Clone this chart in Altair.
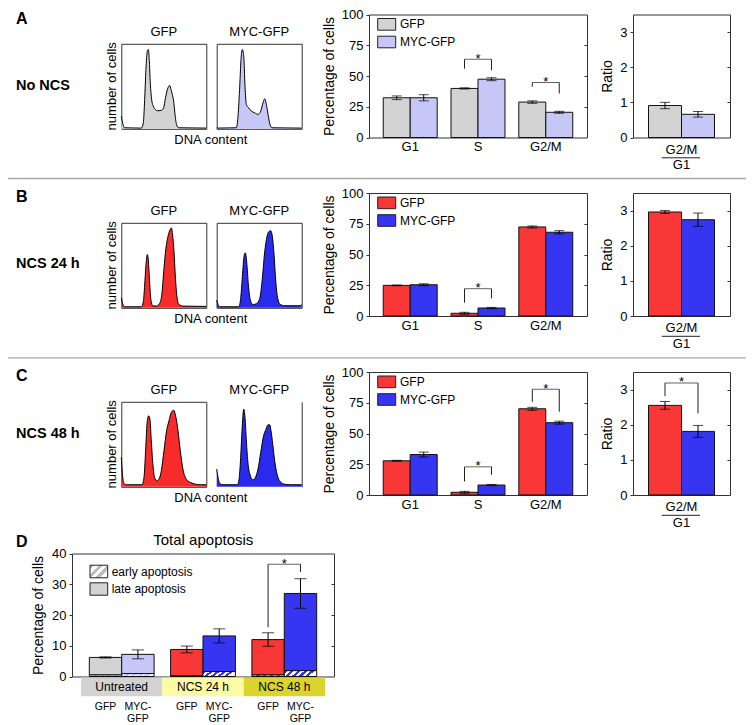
import altair as alt
import pandas as pd

FONT = "Liberation Sans"
W, H = 738, 716


def P(v):
    return v - 8


def PY(v):
    return v - 4.5


# ---------------- data ----------------
phases = ["G1", "S", "G2/M"]
groups = ["GFP", "MYC-GFP"]
row_letters = ["A", "B", "C"]
row_names = ["No NCS", "NCS 24 h", "NCS 48 h"]

pct_gfp = [[32.3, 39.9, 28.8], [24.9, 2.2, 72.4], [27.8, 2.2, 70.1]]
pct_gfp_err = [[1.5, 0.5, 1.0], [0.3, 0.8, 0.8], [0.4, 0.8, 1.2]]
pct_myc = [[32.3, 47.4, 20.5], [25.4, 6.5, 68.1], [32.9, 8.1, 58.8]]
pct_myc_err = [[2.5, 1.2, 0.8], [0.8, 0.5, 1.3], [2.0, 0.5, 1.2]]

ratio_label = ["G2/M"]
ratio_gfp = [0.91, 2.96, 2.55]
ratio_gfp_err = [0.09, 0.04, 0.11]
ratio_myc = [0.66, 2.74, 1.81]
ratio_myc_err = [0.08, 0.19, 0.17]

# significance brackets: (category, top, left leg end, right leg end)
sig_pct = [
    [("S", 63.6, 56.0, 54.7), ("G2/M", 44.7, 41.2, 35.8)],
    [("S", 22.2, 10.8, 14.3)],
    [("S", 22.9, 11.0, 16.4), ("G2/M", 86.0, 75.7, 67.7)],
]
sig_ratio = [[], [], [("G2/M", 3.19, 2.81, 2.32)]]

# DNA content histograms (x: channel 0-100, y: relative count 0-100)
hist_a_gfp_x = [0, 2, 3.9, 23.5, 25.9, 27.5, 29, 30.6, 31.8, 32.9, 34.1, 35.7, 37.6, 40, 43, 47, 49.8, 52,
                54.9, 56.9, 58.4, 60, 61.6, 63, 65, 67.5, 100]
hist_a_gfp_y = [14.9, 5, 1.2, 0.8, 7, 34.5, 70, 91.4, 93.3, 81.6, 54, 34.5, 26.7, 22.7, 21.2, 21.6, 24.7, 36.5,
                48.2, 51, 46.3, 40.4, 32.5, 18.8, 5, 1.2, 0.8]
hist_a_myc_x = [0, 23.1, 25.1, 27.1, 28.6, 30.2, 31.8, 33.3, 34.9, 37.6, 40.8, 44.7, 48.6, 51.8, 54.5, 56.5,
                58.4, 60.4, 62.7, 65.1, 100]
hist_a_myc_y = [0.8, 1.2, 14.9, 50, 81.6, 93.3, 85.5, 50, 28.6, 24.7, 20.8, 18.8, 16.9, 20.8, 30.6, 35.3,
                28.6, 16.9, 5, 1.2, 0.8]
hist_b_gfp_x = [0, 1.6, 3.5, 23.5, 25.9, 27.5, 29, 30.6, 31.8, 33.3, 34.9, 36.9, 41.2, 45, 47.8, 50.2, 52.5,
                54.9, 57.3, 58.8, 60.4, 62, 63.5, 65.5, 67.8, 72.5, 100]
hist_b_gfp_y = [11.8, 5, 1.2, 1.2, 7, 26.7, 50, 62.7, 56, 30.6, 9, 2.4, 2, 5, 16.9, 46.3, 70, 83.9, 91.7,
                94.1, 85.5, 65.9, 38.4, 12.9, 3.9, 2, 1.6]
hist_b_myc_x = [0, 1.6, 3.5, 25.9, 28.2, 30.2, 32.2, 33.7, 35.3, 37.3, 39.6, 42.4, 46.7, 50.6, 53.3, 56.5,
                59.2, 61.6, 63.5, 65.5, 67.5, 69.4, 71.8, 74.9, 80, 98, 100]
hist_b_myc_y = [9, 3.9, 1.2, 1.2, 11, 36.5, 60.8, 64.7, 53.7, 26.7, 9, 3.9, 4.7, 11, 30.6, 65.9, 83.9, 89.8,
                90.6, 83.9, 62, 32.5, 11, 3.9, 2.4, 2.4, 3.9]
hist_c_gfp_x = [0, 1.2, 2.7, 5.9, 24.3, 26.7, 28.6, 30.6, 32.2, 33.7, 35.3, 37.3, 39.2, 41.6, 44.3, 47.1,
                50.2, 53.3, 56.1, 58.8, 61.6, 63.9, 66.7, 69.4, 72.5, 76.5, 81.6, 87.1, 94.1, 100]
hist_c_gfp_y = [34.5, 16.9, 5, 2.4, 2.4, 11, 42.4, 77.6, 83.5, 79.6, 54, 24.7, 11, 7, 9, 18.8, 42.4, 65.9,
                77.6, 87.5, 90.2, 83.5, 65.9, 42.4, 20.8, 9, 5, 3.1, 2.4, 2.4]
hist_c_myc_x = [0, 1.6, 3.5, 7.5, 24.3, 26.3, 28.2, 29.8, 31.8, 33.3, 34.9, 36.9, 39.2, 42.4, 45.5, 48.6,
                51.8, 54.9, 58, 60.4, 62.4, 63.9, 65.9, 68.2, 71, 74.5, 80, 87.8, 100]
hist_c_myc_y = [20.8, 11, 3.9, 2.4, 2.4, 9, 34.5, 65.9, 91.4, 81.6, 54, 26.7, 14.5, 8.2, 11, 20.8, 40.4, 58.8,
                67.8, 72.9, 72.9, 65.9, 50.2, 30.6, 14.9, 6.3, 3.1, 2.4, 2.4]

# Panel D: total apoptosis
conditions = ["Untreated", "NCS 24 h", "NCS 48 h"]
apo_total_gfp = [6.2, 8.8, 12.0]
apo_err_gfp = [0.2, 1.1, 2.2]
apo_early_gfp = [0.5, 0.2, 0.5]
apo_total_myc = [7.2, 13.2, 27.0]
apo_err_myc = [1.45, 2.3, 4.8]
apo_early_myc = [0.95, 1.6, 1.9]
sig_apo = [("NCS 48 h", 36.5, 16.0, 34.0)]

# ---------------- styles ----------------
GRAY, LAV, RED, BLUE = "#D3D3D3", "#C7C7F7", "#F93737", "#3636F2"
row_colors = [(GRAY, LAV), (RED, BLUE), (RED, BLUE)]
hist_colors = [("#D3D3D3", "#C8C8F8"), ("#F82B2B", "#2A2AEE"), ("#F82B2B", "#2A2AEE")]
BAND_COLORS = ["#D3D3D3", "#FDFBA3", "#DCD42E"]

bar_off = [0, 178.5, 357.5]
hist_off = [0, 179, 358]
letter_y = [15, 193.3, 372.3]
name_y = [82, 260, 430]
BAR_X0, BAR_X1 = 369, 587
RAT_X0, RAT_X1 = 633, 730
PTOP, PBOT = 11, 134
HIST_X = [(121.3, 206.3), (216.7, 301.7)]
HTOP, HBOT = 40.3, 125.3
D_X0, D_X1, D_TOP, D_BOT = 72, 334, 550, 673

ONE = pd.DataFrame({"k": [0]})


def ax(orient, pos, labels=False, ticks=False, tick_size=3, values=None, title=None,
       label_padding=None, title_padding=None):
    if orient == "bottom":
        off = PY(pos) - H
    elif orient == "top":
        off = -PY(pos)
    elif orient == "left":
        off = -P(pos)
    else:
        off = P(pos) - W
    kw = dict(orient=orient, offset=off, labels=labels, ticks=ticks,
              tickSize=tick_size if ticks else 0, title=title, domain=True, grid=False,
              labelFlush=False, labelOverlap=False, labelAngle=0)
    if values is not None:
        kw["values"] = values
    if label_padding is not None:
        kw["labelPadding"] = label_padding
    if title_padding is not None:
        kw["titlePadding"] = title_padding
    return alt.Axis(**kw)


def text(s, x, y, size=13, weight="normal", align="center", baseline="middle", angle=0):
    return alt.Chart(ONE).mark_text(
        text=s, font=FONT, fontSize=size, fontWeight=weight, align=align,
        baseline=baseline, angle=angle, color="black"
    ).encode(x=alt.value(P(x)), y=alt.value(PY(y)))


def rect(x0, x1, y0, y1, fill):
    return alt.Chart(ONE).mark_rect(fill=fill, stroke="#222222", strokeWidth=1).encode(
        x=alt.value(P(x0)), x2=alt.value(P(x1)), y=alt.value(PY(y0)), y2=alt.value(PY(y1)))


def hline(x0, x1, y, color, width):
    return alt.Chart(ONE).mark_rule(color=color, strokeWidth=width).encode(
        x=alt.value(P(x0)), x2=alt.value(P(x1)), y=alt.value(PY(y)))


def hatch(color, n=5, y2=0.2):
    stops = []
    for k in range(n):
        a, b, c = k / n, (k + 0.5) / n, (k + 1) / n
        stops += [{"offset": a, "color": color}, {"offset": b, "color": color},
                  {"offset": b, "color": "white"}, {"offset": c, "color": "white"}]
    return {"gradient": "linear", "x1": 0, "y1": 0, "x2": 1, "y2": y2, "stops": stops}


layers = []

# separators and row labels
layers.append(hline(8, 746, 175, "#A8A8A8", 1.3))
layers.append(hline(8, 746, 354.3, "#A8A8A8", 1.3))
for r in range(3):
    layers.append(text(row_letters[r], 16, letter_y[r], size=16, weight="bold", align="left"))
    layers.append(text(row_names[r], 16, name_y[r], size=14.5, weight="bold", align="left"))

# ---------------- histograms ----------------
hist_data = {
    (0, 0): (hist_a_gfp_x, hist_a_gfp_y), (0, 1): (hist_a_myc_x, hist_a_myc_y),
    (1, 0): (hist_b_gfp_x, hist_b_gfp_y), (1, 1): (hist_b_myc_x, hist_b_myc_y),
    (2, 0): (hist_c_gfp_x, hist_c_gfp_y), (2, 1): (hist_c_myc_x, hist_c_myc_y),
}
for r in range(3):
    off = hist_off[r]
    top, bot = HTOP + off, HBOT + off
    for g in range(2):
        x0, x1 = HIST_X[g]
        hx, hy = hist_data[(r, g)]
        df = pd.DataFrame({"x": hx, "y": hy})
        xs = alt.Scale(domain=[0, 100], range=[P(x0), P(x1)], nice=False, zero=False)
        ys = alt.Scale(domain=[0, 100], range=[PY(bot), PY(top)], nice=False, zero=False)
        full = not (r == 2 and g == 1)
        area = alt.Chart(df).mark_area(color=hist_colors[r][g], interpolate="monotone").encode(
            x=alt.X("x:Q", scale=xs, axis=ax("bottom", bot) if full else None),
            y=alt.Y("y:Q", scale=ys, axis=ax("left", x0) if full else None),
        )
        line = alt.Chart(df).mark_line(color="black", strokeWidth=1, interpolate="monotone").encode(
            x=alt.X("x:Q", scale=xs, axis=ax("top", top) if full else None),
            y=alt.Y("y:Q", scale=ys, axis=ax("right", x1)),
        )
        layers += [area, line]
        layers.append(text(groups[g], (x0 + x1) / 2, 28.3 + off, size=13))
    layers.append(text("number of cells", 111.7, (top + bot) / 2, size=13, angle=270))
    layers.append(text("DNA content", 210.8, 136.7 + off, size=13))


# ---------------- bar panels ----------------
def group_panel(cats, gfp_vals, gfp_errs, myc_vals, myc_errs, sigs, colors, x0, x1, top, bot,
                ydom, yvals, inner_vals, ytitle, pin, pout, cap, barw, xlab_pad, title_pad):
    out = []
    n = len(cats)
    df = pd.DataFrame({
        "cat": cats * 2,
        "group": [groups[0]] * n + [groups[1]] * n,
        "value": gfp_vals + myc_vals,
        "err": gfp_errs + myc_errs,
    })
    df["lo"] = df["value"] - df["err"]
    df["hi"] = df["value"] + df["err"]
    xs = alt.Scale(type="band", domain=cats, range=[P(x0), P(x1)], paddingInner=pin, paddingOuter=pout)
    xo = alt.Scale(type="band", domain=groups, paddingInner=0, paddingOuter=0)
    ys = alt.Scale(domain=ydom, range=[PY(bot), PY(top)], nice=False, zero=False)
    fs = alt.Scale(domain=groups, range=list(colors))
    base = alt.Chart(df)
    X = lambda axis=None: alt.X("cat:N", scale=xs, axis=axis)
    XO = alt.XOffset("group:N", scale=xo)
    out.append(base.mark_bar(stroke="#111111", strokeWidth=1).encode(
        x=X(ax("bottom", bot, labels=True, label_padding=xlab_pad)),
        xOffset=XO,
        y=alt.Y("value:Q", scale=ys, axis=ax("left", x0, labels=True, ticks=True, values=yvals,
                                             title=ytitle, label_padding=3, title_padding=title_pad)),
        fill=alt.Fill("group:N", scale=fs, legend=None),
    ))
    out.append(base.mark_rule(color="black", strokeWidth=1).encode(
        x=X(), xOffset=XO, y=alt.Y("lo:Q", scale=ys, axis=None), y2="hi:Q"))
    for f in ["lo", "hi"]:
        out.append(base.mark_tick(color="black", size=cap, thickness=1).encode(
            x=X(), xOffset=XO, y=alt.Y(f + ":Q", scale=ys, axis=None)))
    if sigs:
        legs = pd.DataFrame({
            "cat": [s[0] for s in sigs for _ in range(2)],
            "group": [g for _ in sigs for g in groups],
            "lo": [v for s in sigs for v in (s[2], s[3])],
            "top": [s[1] for s in sigs for _ in range(2)],
        })
        tops = pd.DataFrame({"cat": [s[0] for s in sigs], "top": [s[1] for s in sigs]})
        out.append(alt.Chart(legs).mark_rule(color="#222222", strokeWidth=1).encode(
            x=X(), xOffset=XO, y=alt.Y("lo:Q", scale=ys, axis=None), y2="top:Q"))
        out.append(alt.Chart(tops).mark_tick(color="#222222", size=barw, thickness=1).encode(
            x=X(), y=alt.Y("top:Q", scale=ys, axis=None)))
        out.append(alt.Chart(tops).mark_text(text="*", font=FONT, fontSize=13, baseline="alphabetic",
                                             dy=3.5, color="black").encode(
            x=X(), y=alt.Y("top:Q", scale=ys, axis=None)))
    # frame: top edge and right edge with inward ticks
    out.append(base.mark_point(opacity=0).encode(
        x=X(ax("top", top)),
        y=alt.Y("value:Q", scale=ys, axis=ax("left", x1, ticks=True, values=inner_vals)),
    ))
    return out


for r in range(3):
    off = bar_off[r]
    top, bot = PTOP + off, PBOT + off
    layers += group_panel(phases, pct_gfp[r], pct_gfp_err[r], pct_myc[r], pct_myc_err[r], sig_pct[r],
                          row_colors[r], BAR_X0, BAR_X1, top, bot, [0, 100], [0, 25, 50, 75, 100],
                          [25, 50, 75], "Percentage of cells", 0.204, 0.21, 10, 27, 3, 5)
    layers += group_panel(ratio_label, [ratio_gfp[r]], [ratio_gfp_err[r]], [ratio_myc[r]],
                          [ratio_myc_err[r]], sig_ratio[r], row_colors[r], RAT_X0, RAT_X1, top, bot,
                          [0, 3.5], [0, 1, 2, 3], [1, 2, 3], "Ratio", 0, 0.235, 10, 33, 5.5, 5)
    layers.append(hline(661.7, 700, 154.3 + off, "#222222", 1))
    layers.append(text("G1", 681.5, 161.5 + off, size=13))
    # legend
    layers.append(rect(377.7, 395.7, top + 4, top + 15.7, row_colors[r][0]))
    layers.append(rect(377.7, 395.7, top + 21.7, top + 33.3, row_colors[r][1]))
    layers.append(text("GFP", 400, top + 9.9, size=12, align="left"))
    layers.append(text("MYC-GFP", 400, top + 27.5, size=12, align="left"))

# ---------------- panel D ----------------
tones = ["GFP untreated", "MYC untreated", "GFP NCS", "MYC NCS"]
tone_colors = [GRAY, LAV, RED, BLUE]
rows = []
for i, c in enumerate(conditions):
    for g, tot, err, early in [("GFP", apo_total_gfp[i], apo_err_gfp[i], apo_early_gfp[i]),
                               ("MYC-GFP", apo_total_myc[i], apo_err_myc[i], apo_early_myc[i])]:
        tone = ("GFP" if g == "GFP" else "MYC") + (" untreated" if c == "Untreated" else " NCS")
        rows.append(dict(condition=c, group=g, total=tot, lo=tot - err, hi=tot + err, early=early,
                         tone=tone, label="GFP" if g == "GFP" else "MYC-\nGFP"))
apo = pd.DataFrame(rows)

dxs = alt.Scale(type="band", domain=conditions, range=[P(D_X0), P(D_X1)], paddingInner=0.203,
                paddingOuter=0.213)
dxo = alt.Scale(type="band", domain=groups, paddingInner=0, paddingOuter=0)
dys = alt.Scale(domain=[0, 40], range=[PY(D_BOT), PY(D_TOP)], nice=False, zero=False)
DX = lambda axis=None: alt.X("condition:N", scale=dxs, axis=axis)
DXO = alt.XOffset("group:N", scale=dxo)
abase = alt.Chart(apo)

layers.append(abase.mark_bar(stroke="#111111", strokeWidth=1).encode(
    x=DX(ax("bottom", D_BOT)), xOffset=DXO,
    y=alt.Y("total:Q", scale=dys, axis=ax("left", D_X0, labels=True, ticks=True, values=[0, 10, 20, 30, 40],
                                          title="Percentage of cells", label_padding=3, title_padding=6)),
    y2="early:Q",
    fill=alt.Fill("tone:N", scale=alt.Scale(domain=tones, range=tone_colors), legend=None),
))
for tone, col in zip(tones, tone_colors):
    layers.append(abase.transform_filter(alt.datum.tone == tone).mark_bar(
        fill=hatch(col), stroke="#111111", strokeWidth=1).encode(
        x=DX(), xOffset=DXO, y=alt.Y("early:Q", scale=dys, axis=None)))
layers.append(abase.mark_rule(color="black", strokeWidth=1).encode(
    x=DX(), xOffset=DXO, y=alt.Y("lo:Q", scale=dys, axis=None), y2="hi:Q"))
for f in ["lo", "hi"]:
    layers.append(abase.mark_tick(color="black", size=12, thickness=1).encode(
        x=DX(), xOffset=DXO, y=alt.Y(f + ":Q", scale=dys, axis=None)))
alegs = pd.DataFrame({
    "condition": [s[0] for s in sig_apo for _ in range(2)],
    "group": [g for _ in sig_apo for g in groups],
    "lo": [v for s in sig_apo for v in (s[2], s[3])],
    "top": [s[1] for s in sig_apo for _ in range(2)],
})
atops = pd.DataFrame({"condition": [s[0] for s in sig_apo], "top": [s[1] for s in sig_apo]})
layers.append(alt.Chart(alegs).mark_rule(color="#222222", strokeWidth=1).encode(
    x=DX(), xOffset=DXO, y=alt.Y("lo:Q", scale=dys, axis=None), y2="top:Q"))
layers.append(alt.Chart(atops).mark_tick(color="#222222", size=32.5, thickness=1).encode(
    x=DX(), y=alt.Y("top:Q", scale=dys, axis=None)))
layers.append(alt.Chart(atops).mark_text(text="*", font=FONT, fontSize=13, baseline="alphabetic", dy=3.5,
                                         color="black").encode(
    x=DX(), y=alt.Y("top:Q", scale=dys, axis=None)))
layers.append(abase.mark_point(opacity=0).encode(
    x=DX(ax("top", D_TOP)),
    y=alt.Y("total:Q", scale=dys, axis=ax("left", D_X1, ticks=True, values=[10, 20, 30])),
))
# condition bands and labels
bdf = pd.DataFrame({"condition": conditions})
bxs = alt.Scale(type="band", domain=conditions, range=[P(D_X0), P(D_X1)], paddingInner=0, paddingOuter=0.11)
layers.append(alt.Chart(bdf).mark_bar().encode(
    x=alt.X("condition:N", scale=bxs, axis=None), y=alt.value(PY(674)), y2=alt.value(PY(692.7)),
    fill=alt.Fill("condition:N", scale=alt.Scale(domain=conditions, range=BAND_COLORS), legend=None)))
layers.append(alt.Chart(bdf).mark_text(font=FONT, fontSize=12, color="black", baseline="middle").encode(
    x=alt.X("condition:N", scale=bxs, axis=None), y=alt.value(PY(683.3)), text="condition:N"))
layers.append(abase.mark_text(font=FONT, fontSize=10.5, color="black", baseline="top", lineBreak="\n",
                              lineHeight=12).encode(
    x=DX(), xOffset=DXO, y=alt.value(PY(698.3)), text="label:N"))
# title and legend
layers.append(text("Total apoptosis", 203.3, 536.7, size=15))
layers.append(text("D", 16, 538, size=16, weight="bold", align="left"))
layers.append(rect(90, 107.7, 561.7, 574.3, hatch("#BDBDBD", n=3, y2=0.7)))
layers.append(rect(90, 107.7, 579.3, 591.7, GRAY))
layers.append(text("early apoptosis", 111.7, 568, size=12, align="left"))
layers.append(text("late apoptosis", 111.7, 585.5, size=12, align="left"))

chart = alt.layer(*layers).properties(
    width=W, height=H, padding=0, autosize=alt.AutoSizeParams(type="none")
).resolve_scale(
    x="independent", y="independent", xOffset="independent", fill="independent", color="independent"
).resolve_axis(
    x="independent", y="independent"
).configure_view(stroke=None).configure_axis(
    labelFont=FONT, titleFont=FONT, labelFontSize=13, titleFontSize=14, titleFontWeight="normal",
    labelColor="black", titleColor="black", domainColor="#333333", tickColor="#333333", domainWidth=1
)

chart.save("out.html", embed_options={"renderer": "svg", "actions": False})
